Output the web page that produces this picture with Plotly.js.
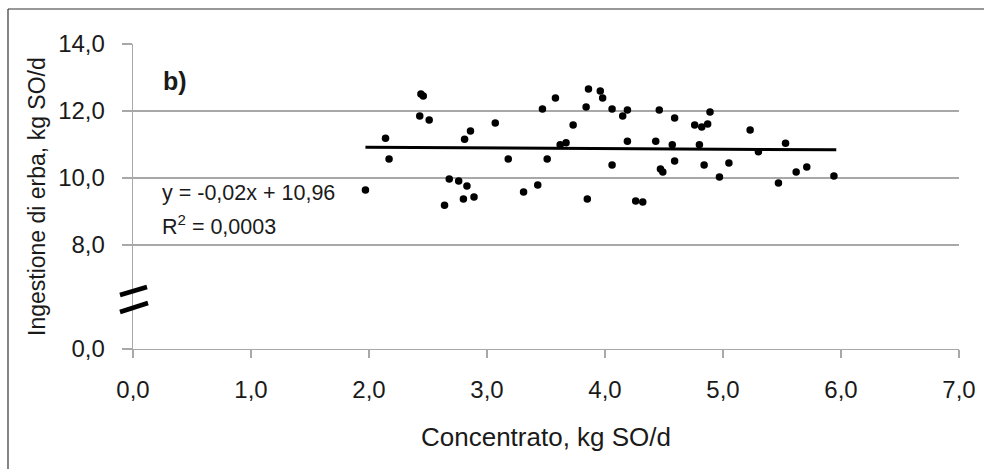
<!DOCTYPE html>
<html>
<head>
<meta charset="utf-8">
<script src="https://cdn.plot.ly/plotly-3.0.1.min.js"></script>
<style>
html,body{margin:0;padding:0;background:#fff;}
#chart{width:984px;height:469px;}
</style>
</head>
<body>
<div id="chart"></div>
<script>
// Data
var concentrato = [1.97,2.14,2.17,2.44,2.46,2.43,2.51,2.68,2.76,2.83,2.64,2.80,2.89,2.86,2.81,3.07,3.18,3.31,3.43,3.51,3.47,3.58,3.62,3.67,3.73,3.84,3.86,3.96,3.98,3.85,4.06,4.06,4.15,4.19,4.19,4.26,4.32,4.43,4.46,4.47,4.49,4.57,4.59,4.59,4.76,4.82,4.87,4.89,4.80,4.84,4.97,5.05,5.23,5.30,5.53,5.47,5.62,5.71,5.94];
var ingestione  = [9.64,11.19,10.57,12.51,12.45,11.85,11.73,9.97,9.91,9.76,9.19,9.37,9.43,11.40,11.16,11.64,10.57,9.58,9.79,10.57,12.06,12.39,10.99,11.05,11.58,12.12,12.66,12.60,12.39,9.37,12.06,10.39,11.85,12.03,11.10,9.31,9.28,11.10,12.03,10.27,10.18,10.99,11.79,10.51,11.58,11.52,11.61,11.97,10.99,10.39,10.03,10.45,11.43,10.78,11.04,9.85,10.18,10.33,10.06];
var trendX = [1.97, 5.96];
var slope = -0.02, intercept = 10.96;
var trendY = trendX.map(function(x){ return slope * x + intercept; });
var xTicks = [0,1,2,3,4,5,6,7];
var yTicksUpper = [8,10,12,14];
var yTicksLower = [0];
var xTitle = "Concentrato, kg SO/d";
var yTitle = "Ingestione di erba, kg SO/d";
var eqText = "y = -0,02x + 10,96";
var r2Text = "R<sup>2</sup> = 0,0003";
var panelLabel = "<b>b)</b>";

// pixel helpers for decorations (plot area: x 133..959, y 44..349)
var L = 133, R = 959, T = 44, B = 349;
function px(x){ return (x - L) / (R - L); }
function py(y){ return (B - y) / (B - T); }

var FONT = "Liberation Sans, Arial, sans-serif";
var TXT = "#1a1a1a";
var GRID = "#a8a8a8";

var traces = [
  {
    x: concentrato, y: ingestione, type: "scatter", mode: "markers",
    marker: {color: "#000", size: 7.5},
    xaxis: "x", yaxis: "y", hoverinfo: "x+y", showlegend: false
  },
  {
    x: trendX, y: trendY, type: "scatter", mode: "lines",
    line: {color: "#000", width: 3},
    xaxis: "x", yaxis: "y", showlegend: false
  },
  {
    // empty trace so the lower (broken) y axis segment exists
    x: [null], y: [null], type: "scatter", mode: "markers",
    xaxis: "x", yaxis: "y2", showlegend: false, hoverinfo: "skip"
  }
];

var breakFrac = py(300);

var layout = {
  width: 984, height: 469,
  margin: {l: L, r: 984 - R, t: T, b: 469 - B, pad: 0},
  paper_bgcolor: "#fff", plot_bgcolor: "#fff",
  separators: ", ",
  font: {family: FONT, color: TXT, size: 22},
  showlegend: false,
  xaxis: {
    anchor: "y2", range: [0, 7], tickvals: xTicks, tickformat: ".1f",
    showgrid: false, zeroline: false, automargin: false,
    showline: true, linecolor: GRID, linewidth: 1.3,
    ticks: "outside", ticklen: 8, tickcolor: GRID, tickwidth: 1.3,
    tickfont: {size: 24, color: TXT}, ticklabelstandoff: 11,
    title: {text: xTitle, font: {size: 26, color: TXT}, standoff: 25}
  },
  yaxis: {
    anchor: "x", domain: [breakFrac, 1], range: [14 - (300 - T) / 33.5, 14],
    tickvals: yTicksUpper, tickformat: ".1f", automargin: false,
    showgrid: true, gridcolor: GRID, gridwidth: 1.3, zeroline: false,
    showline: true, linecolor: GRID, linewidth: 1.3,
    ticks: "outside", ticklen: 10, tickcolor: GRID, tickwidth: 1.3,
    tickfont: {size: 24, color: TXT}, ticklabelstandoff: 12
  },
  yaxis2: {
    anchor: "x", domain: [0, breakFrac], range: [0, 49 / 33.5],
    tickvals: yTicksLower, tickformat: ".1f", automargin: false,
    showgrid: false, zeroline: false,
    showline: true, linecolor: GRID, linewidth: 1.3,
    ticks: "outside", ticklen: 10, tickcolor: GRID, tickwidth: 1.3,
    tickfont: {size: 24, color: TXT}, ticklabelstandoff: 12
  },
  annotations: [
    {text: yTitle, xref: "paper", yref: "paper", x: px(37), y: py(197), textangle: -90,
     showarrow: false, xanchor: "center", yanchor: "middle", font: {size: 23, color: TXT}},
    {text: panelLabel, xref: "paper", yref: "paper", x: px(161), y: py(81),
     showarrow: false, xanchor: "left", yanchor: "middle", font: {size: 25, color: TXT}},
    {text: eqText, xref: "paper", yref: "paper", x: px(160), y: py(193),
     showarrow: false, xanchor: "left", yanchor: "middle", font: {size: 21.5, color: TXT}},
    {text: r2Text, xref: "paper", yref: "paper", x: px(160), y: py(225),
     showarrow: false, xanchor: "left", yanchor: "middle", font: {size: 21.5, color: TXT}}
  ],
  shapes: [
    {type: "line", xref: "paper", yref: "paper", x0: px(120), y0: py(295), x1: px(147), y1: py(287), line: {color: "#000", width: 4.5}},
    {type: "line", xref: "paper", yref: "paper", x0: px(120), y0: py(312), x1: px(148), y1: py(303), line: {color: "#000", width: 4.5}},
    {type: "line", xref: "paper", yref: "paper", x0: px(8), y0: py(9), x1: px(984), y1: py(9), line: {color: "#333", width: 1.2}},
    {type: "line", xref: "paper", yref: "paper", x0: px(8), y0: py(9), x1: px(8), y1: py(469), line: {color: "#333", width: 1.2}}
  ]
};

Plotly.newPlot("chart", traces, layout, {displayModeBar: false, staticPlot: true});
</script>
</body>
</html>
